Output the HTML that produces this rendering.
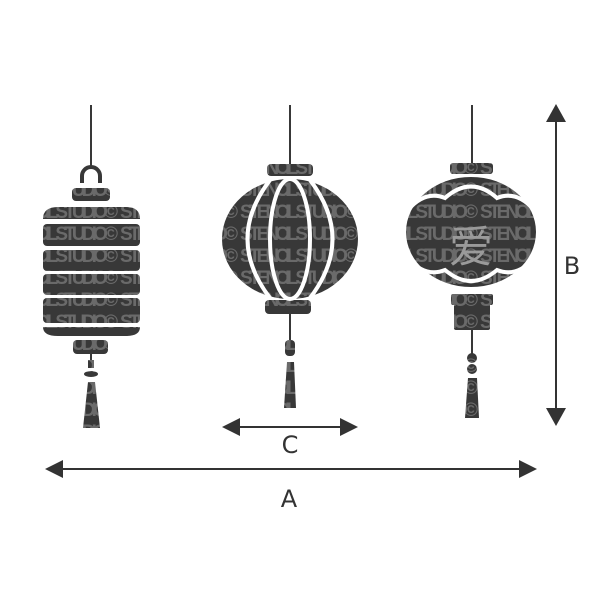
<!DOCTYPE html>
<html><head><style>html,body{margin:0;padding:0;background:#fff}</style></head>
<body>
<svg width="600" height="600" viewBox="0 0 600 600" xmlns="http://www.w3.org/2000/svg">
<defs>
<pattern id="tx" width="120" height="22" patternUnits="userSpaceOnUse" patternTransform="translate(0,3)">
<rect width="120" height="22" fill="#383838"/>
<text x="0" y="17" font-family="Liberation Sans Narrow, Liberation Sans, sans-serif" font-weight="bold" font-size="19" fill="#6a6a6a" textLength="118">STENCIL STUDIO©</text>
</pattern>
</defs>
<g fill="url(#tx)">
<!-- left -->
<line x1="91" y1="105" x2="91" y2="167" stroke="#383838" stroke-width="2"/>
<path d="M82 183 V176 A9 9 0 0 1 100 176 V183" fill="none" stroke="#383838" stroke-width="4"/>
<rect x="72" y="188" width="38" height="13" rx="4"/>
<path d="M43 219 Q43 207 58 207 H126 Q140 207 140 219 Z"/>
<rect x="43" y="224" width="97" height="22" rx="4"/>
<rect x="43" y="250" width="97" height="21" rx="4"/>
<rect x="43" y="274" width="97" height="21" rx="4"/>
<rect x="43" y="298" width="97" height="25" rx="4"/>
<path d="M43 327 H140 Q140 336 126 336 H58 Q43 336 43 327 Z"/>
<rect x="73" y="340" width="35" height="14" rx="4"/>
<line x1="91" y1="354" x2="91" y2="368" stroke="#383838" stroke-width="2"/>
<rect x="88" y="360" width="6" height="8"/>
<ellipse cx="91" cy="374" rx="7" ry="3"/>
<path d="M88 382 H95 L100 428 H83 Z"/>
<!-- middle -->
<line x1="290" y1="105" x2="290" y2="165" stroke="#383838" stroke-width="2"/>
<rect x="267" y="164" width="46" height="12" rx="4"/>
<ellipse cx="290" cy="239" rx="68" ry="60"/>
<rect x="265" y="300" width="46" height="14" rx="4"/>
<line x1="290" y1="314" x2="290" y2="345" stroke="#383838" stroke-width="2"/>
<rect x="285" y="340" width="10" height="16" rx="4"/>
<path d="M287 362 H294 L296 408 H284 Z"/>
<!-- right -->
<line x1="472" y1="105" x2="472" y2="165" stroke="#383838" stroke-width="2"/>
<rect x="450" y="163" width="43" height="11" rx="3"/>
<ellipse cx="471" cy="232" rx="65" ry="55"/>
<rect x="451" y="294" width="42" height="11" rx="2"/>
<rect x="454" y="304" width="36" height="26" rx="2"/>
<line x1="472" y1="330" x2="472" y2="360" stroke="#383838" stroke-width="2"/>
<circle cx="472" cy="358" r="5"/><circle cx="472" cy="369" r="5"/>
<path d="M468 378 H477 L479 418 H465 Z"/>
</g>
<!-- middle ribs -->
<g fill="none" stroke="#fff" stroke-width="4">
<ellipse cx="290" cy="239" rx="20" ry="60"/>
<path d="M270 180 Q225 239 270 298"/>
<path d="M310 180 Q355 239 310 298"/>
</g>
<!-- right scallops -->
<g fill="none" stroke="#fff" stroke-width="4">
<path d="M408 210 Q425 190 445 198 Q471 175 497 198 Q517 190 534 210"/>
<path d="M408 258 Q425 278 445 270 Q471 292 497 270 Q517 278 534 258"/>
</g>
<text x="471" y="262" text-anchor="middle" font-family="Noto Sans CJK SC, sans-serif" font-size="44" fill="#9a9a9a">爱</text>
<!-- dimension arrows -->
<g stroke="#333" stroke-width="2" fill="#333">
<line x1="230" y1="427" x2="350" y2="427"/>
<path d="M222 427 L240 418 L240 436 Z" stroke="none"/>
<path d="M358 427 L340 418 L340 436 Z" stroke="none"/>
<line x1="55" y1="469" x2="527" y2="469"/>
<path d="M45 469 L63 460 L63 478 Z" stroke="none"/>
<path d="M537 469 L519 460 L519 478 Z" stroke="none"/>
<line x1="556" y1="115" x2="556" y2="415"/>
<path d="M556 104 L546 122 L566 122 Z" stroke="none"/>
<path d="M556 426 L546 408 L566 408 Z" stroke="none"/>
</g>
<g font-family="DejaVu Sans, Liberation Sans, sans-serif" font-size="24" fill="#333" text-anchor="middle">
<text x="290" y="453">C</text>
<text x="289" y="507">A</text>
<text x="572" y="274">B</text>
</g>
</svg>
</body></html>
